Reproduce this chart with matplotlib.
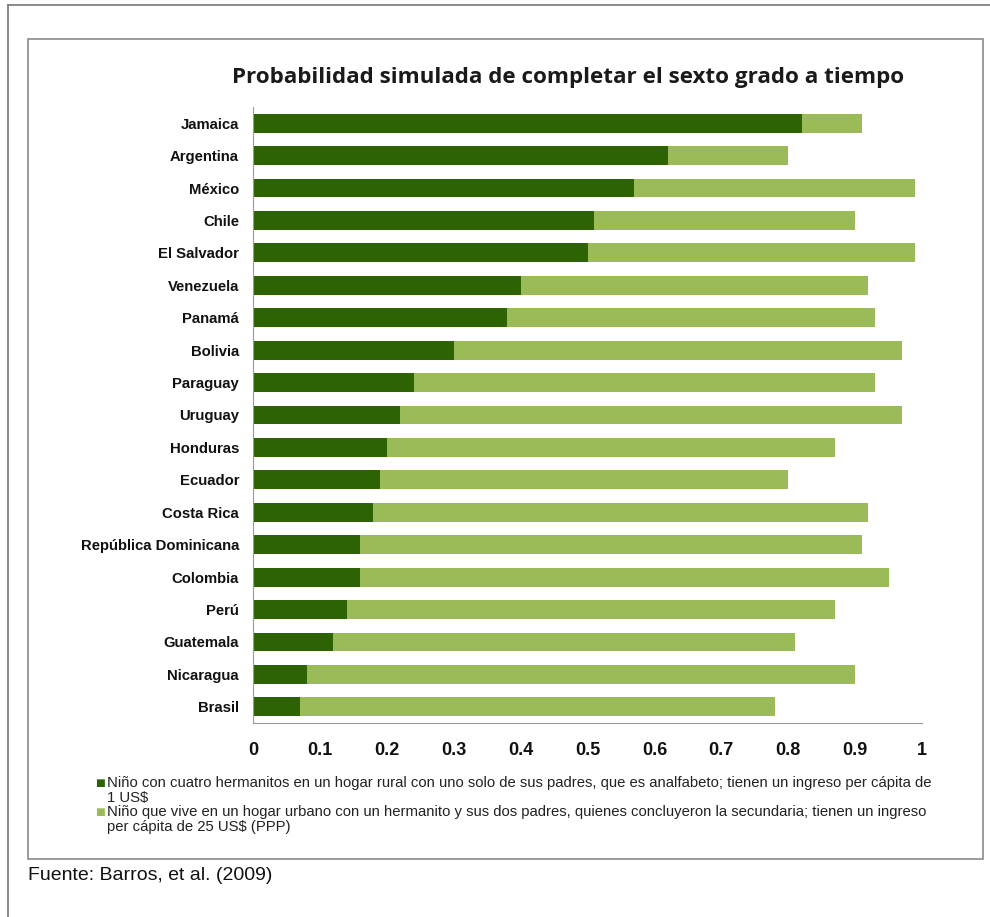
import matplotlib.pyplot as plt
from matplotlib.patches import Rectangle
from matplotlib.lines import Line2D

# data
countries = ["Jamaica", "Argentina", "México", "Chile", "El Salvador", "Venezuela",
             "Panamá", "Bolivia", "Paraguay", "Uruguay", "Honduras", "Ecuador",
             "Costa Rica", "República Dominicana", "Colombia", "Perú", "Guatemala",
             "Nicaragua", "Brasil"]
rural = [0.82, 0.62, 0.57, 0.51, 0.50, 0.40, 0.38, 0.30, 0.24, 0.22, 0.20, 0.19,
         0.18, 0.16, 0.16, 0.14, 0.12, 0.08, 0.07]
urbano = [0.91, 0.80, 0.99, 0.90, 0.99, 0.92, 0.93, 0.97, 0.93, 0.97, 0.87, 0.80,
          0.92, 0.91, 0.95, 0.87, 0.81, 0.90, 0.78]
x_ticks = [0, 0.1, 0.2, 0.3, 0.4, 0.5, 0.6, 0.7, 0.8, 0.9, 1]
x_labels = ["0", "0.1", "0.2", "0.3", "0.4", "0.5", "0.6", "0.7", "0.8", "0.9", "1"]

label_rural = ("Niño con cuatro hermanitos en un hogar rural con uno solo de sus padres, "
               "que es analfabeto; tienen un ingreso per cápita de\n1 US$")
label_urbano = ("Niño que vive en un hogar urbano con un hermanito y sus dos padres, "
                "quienes concluyeron la secundaria; tienen un ingreso\nper cápita de 25 US$ (PPP)")

DARK = "#2E6303"
LIGHT = "#9BBB59"

plt.rcParams["font.family"] = ["Liberation Sans", "DejaVu Sans"]

W, H = 990, 917
fig = plt.figure(figsize=(W / 100, H / 100), dpi=100)

# frames around the picture
fig.add_artist(Line2D([8 / W, 8 / W], [0, 1 - 5 / H], color="#777777", lw=1.2))
fig.add_artist(Line2D([8 / W, 1], [1 - 5 / H, 1 - 5 / H], color="#777777", lw=1.2))
fig.add_artist(Rectangle((28 / W, 1 - 859 / H), (983 - 28) / W, (859 - 39) / H,
                         fill=False, edgecolor="#8a8a8a", lw=1.2))

ax = fig.add_axes([253 / W, 1 - 723 / H, (922 - 253) / W, (723 - 107) / H])
ypos = list(range(len(countries)))
ax.barh(ypos, urbano, height=0.58, color=LIGHT)
ax.barh(ypos, rural, height=0.58, color=DARK)

ax.set_xlim(0, 1)
ax.set_ylim(len(countries) - 0.5, -0.5)
ax.set_yticks(ypos)
ax.set_yticklabels(countries, fontsize=10.7, fontweight="bold", color="#111111")
ax.set_xticks(x_ticks)
ax.set_xticklabels(x_labels, fontsize=13, fontweight="bold", color="#111111")
ax.tick_params(length=0)
ax.tick_params(axis="y", pad=10)
ax.tick_params(axis="x", pad=14)
for s in ["top", "right"]:
    ax.spines[s].set_visible(False)
for s in ["left", "bottom"]:
    ax.spines[s].set_color("#9a9a9a")

fig.text(568 / W, 1 - 77 / H, "Probabilidad simulada de completar el sexto grado a tiempo",
         ha="center", va="center", fontsize=16.1, fontweight="bold",
         family=["Open Sans", "DejaVu Sans"], color="#1a1a1a")

# legend written out by hand so the square sits on the first line
for col, txt, y in [(DARK, label_rural, 783), (LIGHT, label_urbano, 812)]:
    fig.text(95 / W, 1 - y / H, "■", color=col, fontsize=7.5, va="center", ha="left",
             family=["DejaVu Sans"])
    fig.text(107 / W, 1 - (y - 7) / H, txt, fontsize=10.7, va="top", ha="left",
             color="#222222", linespacing=1.1)

fig.text(28 / W, 1 - 875 / H, "Fuente: Barros, et al. (2009)", fontsize=14,
         va="center", ha="left", color="#111111")

fig.savefig("out.png", dpi=100)
